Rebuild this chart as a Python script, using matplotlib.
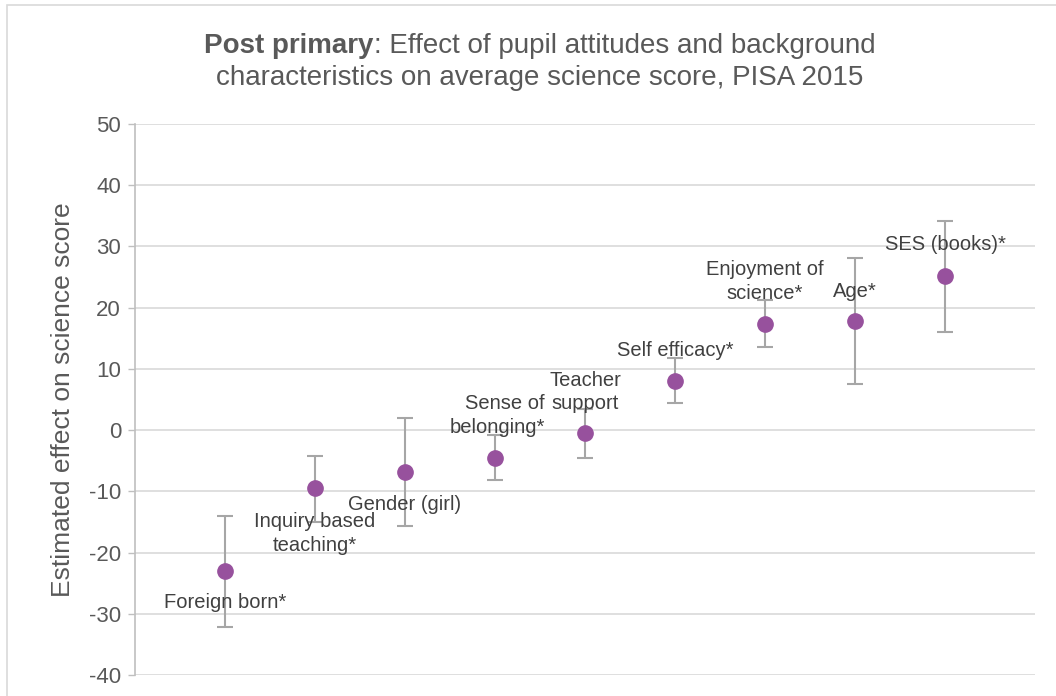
import numpy as np
import matplotlib.pyplot as plt
from matplotlib.patches import Rectangle

plt.rcParams["font.family"] = ["Liberation Sans", "DejaVu Sans"]
plt.rcParams["axes.unicode_minus"] = False

# ── Data ─────────────────────────────────────────────
factors = ["Foreign born*", "Inquiry based\nteaching*", "Gender (girl)",
           "Sense of\nbelonging*", "Teacher\nsupport", "Self efficacy*",
           "Enjoyment of\nscience*", "Age*", "SES (books)*"]
effect = [-23.0, -9.5, -6.8, -4.5, -0.5, 8.1, 17.4, 17.8, 25.2]
ci_low = [-32.1, -15.0, -15.6, -8.2, -4.5, 4.5, 13.6, 7.6, 16.1]
ci_high = [-14.0, -4.2, 2.0, -0.8, 3.4, 11.8, 21.3, 28.1, 34.2]
yticks = [-40, -30, -20, -10, 0, 10, 20, 30, 40, 50]

# label placement: (dx px, dy px, ha) relative to the point
label_pos = [
    (0, -32, "center"),
    (0, -45, "center"),
    (0, -33, "center"),
    (50, 42, "right"),
    (0, 41, "center"),
    (0, 30, "center"),
    (0, 42, "center"),
    (0, 30, "center"),
    (0, 31, "center"),
]

TXT = "#595959"
LBL = "#404040"
PURPLE = "#97519d"
BAR = "#a6a6a6"
PX = 0.72  # pixels -> points at 100 dpi

fig = plt.figure(figsize=(10.56, 6.96), dpi=100)
ax = fig.add_axes([135 / 1056, 21 / 696, 900 / 1056, 551 / 696])

x = np.arange(1, len(factors) + 1)
eff = np.array(effect)
err = [eff - np.array(ci_low), np.array(ci_high) - eff]
ax.errorbar(x, eff, yerr=err, fmt="none", ecolor=BAR, elinewidth=1.5,
            capsize=6, capthick=1.5, zorder=2)
ax.plot(x, eff, "o", color=PURPLE, markersize=11, zorder=4)

for xi, yi, lab, (dx, dy, ha) in zip(x, effect, factors, label_pos):
    ax.annotate(lab, (xi, yi), xytext=(dx * PX, dy * PX),
                textcoords="offset points", ha=ha, va="center",
                fontsize=14.5, color=LBL, linespacing=1.3, zorder=3)

ax.set_xlim(0, 10)
ax.set_ylim(-40, 50)
ax.set_yticks(yticks)
ax.set_xticks([])
ax.tick_params(axis="y", labelsize=16, labelcolor=TXT, color="#bfbfbf",
               length=5, width=1, direction="out", pad=5)
ax.grid(axis="y", color="#d9d9d9", linewidth=1.2)
ax.set_axisbelow(True)
for s in ["top", "right", "bottom"]:
    ax.spines[s].set_visible(False)
ax.spines["left"].set_color("#bfbfbf")
ax.spines["left"].set_linewidth(1.2)
ax.set_ylabel("Estimated effect on science score", fontsize=19,
              color=TXT, labelpad=10)

# chart area border
fig.patches.append(Rectangle((7 / 1056, -0.1), 1.2, 0.1 + (696 - 5) / 696,
                             transform=fig.transFigure, fill=False,
                             edgecolor="#d9d9d9", linewidth=1.2))

# title: bold lead-in followed by regular text
fig.canvas.draw()
r = fig.canvas.get_renderer()
t1 = fig.text(0, 0, "Post primary", fontsize=20, weight="bold", color=TXT,
              va="baseline")
t2 = fig.text(0, 0, ": Effect of pupil attitudes and background",
              fontsize=20, color=TXT, va="baseline")
w1 = t1.get_window_extent(r).width
w2 = t2.get_window_extent(r).width
cx = 540
y1 = 1 - 53 / 696
left = cx - (w1 + w2) / 2
t1.set_position((left / 1056, y1))
t2.set_position(((left + w1) / 1056, y1))
fig.text(cx / 1056, 1 - 85 / 696,
         "characteristics on average science score, PISA 2015",
         fontsize=20, color=TXT, ha="center", va="baseline")

fig.savefig("out.png", dpi=100)
